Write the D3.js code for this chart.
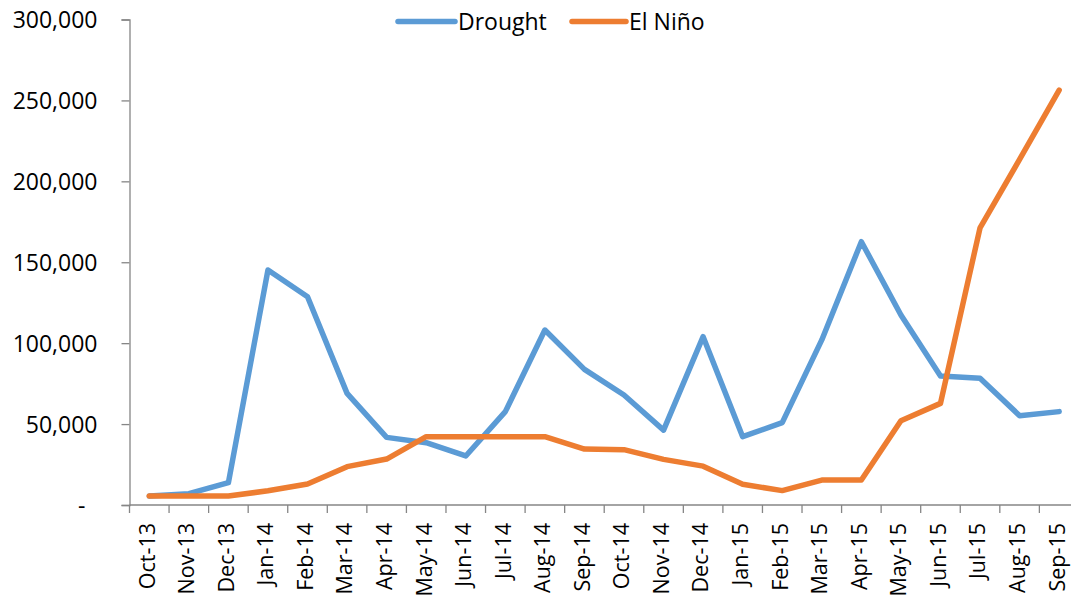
<!DOCTYPE html>
<html>
<head>
<meta charset="utf-8">
<script src="https://cdn.jsdelivr.net/npm/d3@7"></script>
<style>
  html, body { margin: 0; padding: 0; background: #fff; }
  svg { display: block; font-family: "Open Sans", sans-serif; }
</style>
</head>
<body>
<svg id="chart" width="1071" height="602"></svg>
<script>
const categories = ["Oct-13","Nov-13","Dec-13","Jan-14","Feb-14","Mar-14","Apr-14","May-14","Jun-14","Jul-14","Aug-14","Sep-14","Oct-14","Nov-14","Dec-14","Jan-15","Feb-15","Mar-15","Apr-15","May-15","Jun-15","Jul-15","Aug-15","Sep-15"];
const drought = [5500, 7000, 13800, 145200, 128700, 69000, 41800, 38500, 30300, 57700, 108100, 83800, 68000, 46300, 104000, 42200, 50900, 102000, 162700, 117400, 79700, 78300, 55200, 57700];
const elNino = [5500, 5500, 5500, 8800, 13000, 23700, 28400, 42200, 42200, 42200, 42200, 34600, 34200, 28200, 24000, 12800, 8900, 15400, 15400, 52100, 62800, 171300, 213500, 256400];
const yTicks = [0, 50000, 100000, 150000, 200000, 250000, 300000];
const seriesNames = ["Drought", "El Niño"];
const seriesColors = ["#5B9BD5", "#ED7D31"];

(function () {
const svg = d3.select("#chart");
const mLeft = 129.5, mTop = 19.5, mBottom = 505, step = 39.56;
const mRight = mLeft + step * categories.length;

const x = d3.scaleBand().domain(categories).range([mLeft, mRight]).paddingInner(0).paddingOuter(0);
const y = d3.scaleLinear().domain([0, 300000]).range([mBottom, mTop]);
const fmt = d3.format(",");
const axisColor = "#868686";

// Y axis
const yAxis = svg.append("g").attr("transform", `translate(${mLeft},0)`)
  .call(d3.axisLeft(y).tickValues(yTicks).tickSize(8).tickPadding(24)
    .tickFormat(d => d === 0 ? "-" : fmt(d)));
yAxis.select(".domain").attr("stroke", axisColor).attr("stroke-width", 1.3);
yAxis.selectAll(".tick line").attr("stroke", axisColor).attr("stroke-width", 1.3);
yAxis.selectAll(".tick text").attr("fill", "#000").style("font-size", "23px")
  .style("font-family", '"Open Sans", sans-serif')
  .attr("dy", "0.36em")
  .attr("dx", d => d === 0 ? -12 : 0);

// X axis line and boundary ticks
const xg = svg.append("g");
xg.append("line").attr("x1", mLeft).attr("x2", mRight).attr("y1", mBottom).attr("y2", mBottom)
  .attr("stroke", axisColor).attr("stroke-width", 1.3);
const bounds = categories.map(c => x(c)).concat([mRight]);
xg.selectAll("line.tk").data(bounds).join("line").attr("class", "tk")
  .attr("x1", d => d).attr("x2", d => d).attr("y1", mBottom).attr("y2", mBottom + 8)
  .attr("stroke", axisColor).attr("stroke-width", 1.3);

// X labels via axis
const xAxis = svg.append("g").attr("transform", `translate(0,${mBottom})`)
  .call(d3.axisBottom(x).tickSize(0).tickPadding(0));
xAxis.select(".domain").remove();
xAxis.selectAll(".tick text")
  .attr("fill", "#000").style("font-size", "21.5px")
  .style("font-family", '"Open Sans", sans-serif')
  .attr("text-anchor", "end")
  .attr("transform", "translate(0,18) rotate(-90)")
  .attr("x", 0).attr("y", 0).attr("dy", "0.25em");

// Lines
const line = d3.line().x((d, i) => x(categories[i]) + x.bandwidth() / 2).y(d => y(d));
[drought, elNino].forEach((s, k) => {
  svg.append("path").datum(s).attr("d", line)
    .attr("fill", "none").attr("stroke", seriesColors[k]).attr("stroke-width", 5.5)
    .attr("stroke-linejoin", "round").attr("stroke-linecap", "round");
});

// Legend
const legendItems = [{x1: 398, x2: 455, tx: 458}, {x1: 572, x2: 626, tx: 629}];
const lg = svg.append("g");
legendItems.forEach((p, k) => {
  lg.append("line").attr("x1", p.x1).attr("x2", p.x2).attr("y1", 21.5).attr("y2", 21.5)
    .attr("stroke", seriesColors[k]).attr("stroke-width", 5.5).attr("stroke-linecap", "round");
  lg.append("text").attr("x", p.tx).attr("y", 30).text(seriesNames[k])
    .attr("fill", "#000").style("font-size", "23px");
});
})();
</script>
</body>
</html>
